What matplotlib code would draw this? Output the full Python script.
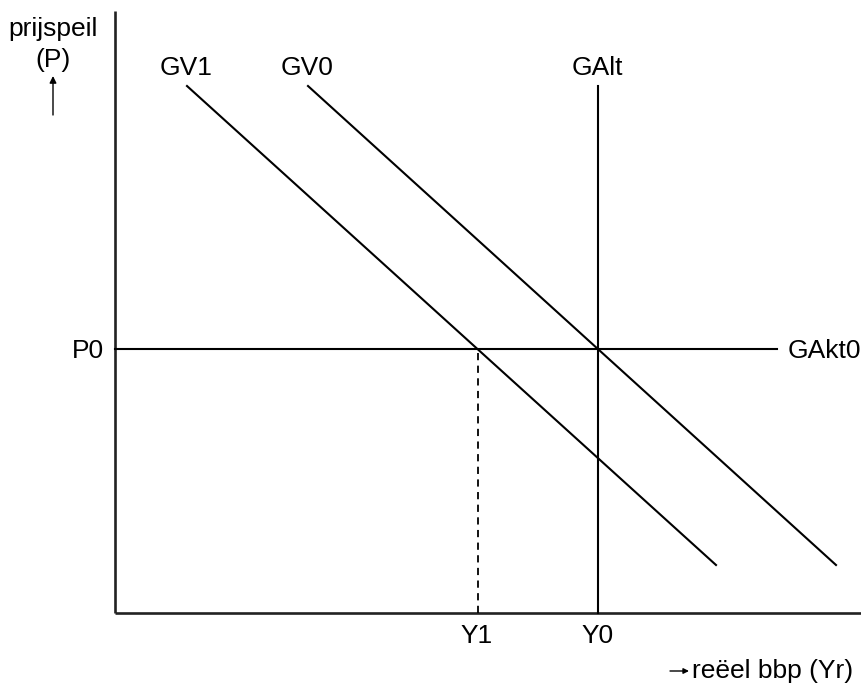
import matplotlib
matplotlib.use("Agg")
import matplotlib.pyplot as plt

plt.rcParams['font.family'] = ['Liberation Sans', 'DejaVu Sans']

# Economic values (arbitrary units)
Y1 = 363
Y0 = 483
P0 = 264
gv1_x = [72, 601]
gv1_y = [527, 48]
gv0_x = [193, 721]
gv0_y = [527, 48]
galt_top = 527
gakt_end = 662
curve_labels = ["GV1", "GV0", "GAlt", "GAkt0"]
tick_labels = ["Y1", "Y0", "P0"]

fig = plt.figure(figsize=(8.62, 6.83), dpi=100)
ax = fig.add_axes([0, 0, 1, 1])
ax.set_xlim(-115, 747)
ax.set_ylim(-70, 613)
ax.axis('off')

lw = 1.5
alw = 1.9
# axes
ax.plot([0, 0], [0, 602], color='#222222', lw=alw, solid_capstyle='butt')
ax.plot([0, 747], [0, 0], color='#222222', lw=alw, solid_capstyle='butt')

# curves
ax.plot(gv1_x, gv1_y, color='black', lw=lw)
ax.plot(gv0_x, gv0_y, color='black', lw=lw)
ax.plot([Y0, Y0], [0, galt_top], color='black', lw=lw)
ax.plot([0, gakt_end], [P0, P0], color='black', lw=lw)
ax.plot([Y1, Y1], [0, P0], color='black', lw=1.3, ls=(0, (4, 3)))

fs = 19
ax.text(71, 538, curve_labels[0], fontsize=fs, ha='center', va='baseline')
ax.text(192, 538, curve_labels[1], fontsize=fs, ha='center', va='baseline')
ax.text(482, 538, curve_labels[2], fontsize=fs, ha='center', va='baseline')
ax.text(746, 255, curve_labels[3], fontsize=fs, ha='right', va='baseline')

ax.text(362, -30, tick_labels[0], fontsize=fs, ha='center', va='baseline')
ax.text(483, -30, tick_labels[1], fontsize=fs, ha='center', va='baseline')
ax.text(-11, 255, tick_labels[2], fontsize=fs, ha='right', va='baseline')

ax.text(-62, 577, "prijspeil", fontsize=fs, ha='center', va='baseline')
ax.text(-62, 546, "(P)", fontsize=fs, ha='center', va='baseline')
ax.annotate("", xy=(-62, 537), xytext=(-62, 498),
            arrowprops=dict(arrowstyle='-|>', color='black', lw=1.0,
                            mutation_scale=10, shrinkA=0, shrinkB=0))

ax.annotate("", xy=(574, -58), xytext=(555, -58),
            arrowprops=dict(arrowstyle='-|>', color='black', lw=1.0,
                            mutation_scale=8, shrinkA=0, shrinkB=0))
ax.text(577, -65, "reëel bbp (Yr)", fontsize=fs, ha='left', va='baseline')

fig.savefig("out.png", dpi=100)
